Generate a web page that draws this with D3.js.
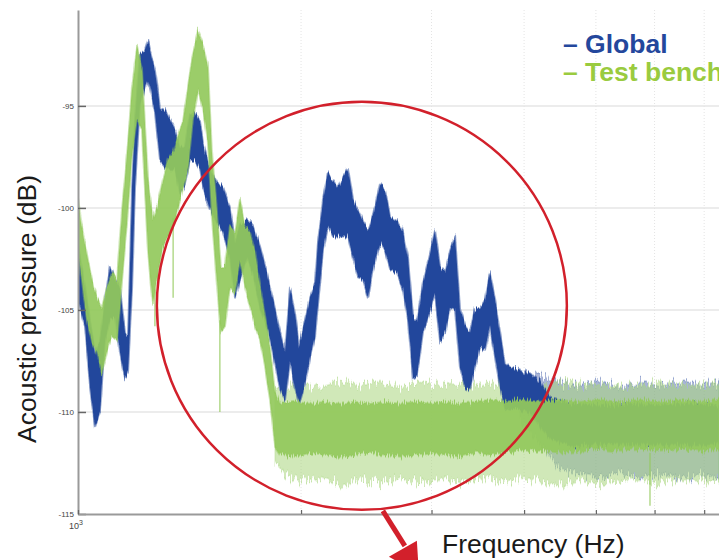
<!DOCTYPE html>
<html>
<head>
<meta charset="utf-8">
<script src="https://cdn.jsdelivr.net/npm/d3@7/dist/d3.min.js"></script>
<style>
	body { margin: 0; background: #fff; }
	svg { display: block; font-family: 'Liberation Sans', Arial, sans-serif; }
</style>
</head>
<body>
<div id="chart"></div>
<script>
// frequency points (Hz) and band edges (dB)
const globalFreq = [1000, 1022, 1038, 1054, 1071, 1087, 1104, 1122, 1139, 1157, 1168, 1183, 1194, 1212, 1231, 1243, 1251, 1270, 1290, 1310,
	1331, 1352, 1373, 1394, 1416, 1438, 1461, 1475, 1507, 1540, 1569, 1603, 1629, 1654, 1691, 1722, 1761, 1799, 1833, 1874,
	1903, 1933, 1963, 1988, 2025, 2057, 2089, 2109, 2141, 2174, 2209, 2243, 2278, 2314, 2350, 2387, 2425, 2463, 2502, 2557,
	2597, 2638, 2696, 2746, 2789, 2832, 2868, 2922, 2987, 3033, 3081, 3129, 3178, 3228, 3278, 3330, 3382, 3435, 3489, 3543,
	3598, 3655, 3712, 3770, 3828, 3912, 4011, 4074, 4202, 4336, 4614, 5064, 5559, 6102, 6698, 7330];
const globalHi = [-101.8, -103.9, -105.5, -107.1, -106.5, -104.7, -102.9, -103.5, -103.9, -106.1, -106.3, -99.0, -95.7, -92.4, -92.3, -91.8, -92.3, -93.2, -95.1, -95.2,
	-95.7, -96.2, -97.0, -97.0, -95.4, -95.3, -95.7, -96.8, -98.1, -98.8, -99.0, -100.0, -101.7, -100.9, -100.6, -100.9, -101.9, -103.2, -104.5, -106.1,
	-107.1, -103.9, -105.2, -106.8, -105.5, -104.4, -103.7, -101.6, -99.6, -98.3, -98.6, -99.0, -98.5, -98.1, -99.6, -100.1, -100.7, -101.1, -100.4, -98.8,
	-99.1, -100.4, -100.6, -101.2, -102.5, -105.3, -105.5, -103.7, -102.2, -101.1, -102.9, -103.2, -102.1, -101.4, -105.0, -105.8, -106.1, -104.9, -104.9, -104.5,
	-103.2, -104.5, -106.1, -107.6, -107.8, -107.9, -108.1, -108.1, -108.5, -109.3, -109.6, -109.7, -109.6, -109.7, -109.6, -109.7];
const globalLo = [-104.5, -105.8, -108.8, -110.7, -110.0, -106.5, -105.5, -105.3, -107.1, -108.4, -108.1, -103.9, -99.0, -94.9, -94.1, -93.7, -94.1, -95.3, -97.7, -98.0,
	-98.1, -98.1, -99.3, -98.8, -97.7, -97.7, -98.1, -99.0, -100.1, -100.7, -101.2, -102.4, -104.4, -103.5, -102.4, -103.2, -104.9, -105.8, -107.1, -108.9,
	-109.4, -107.5, -108.8, -109.6, -108.6, -107.3, -106.3, -104.7, -102.1, -100.9, -101.4, -101.4, -101.4, -101.4, -102.4, -103.4, -103.5, -104.4, -103.0, -101.7,
	-102.1, -103.0, -103.2, -104.0, -105.6, -108.3, -108.2, -106.1, -105.0, -104.2, -106.6, -106.1, -104.9, -105.0, -107.8, -108.8, -108.9, -107.8, -106.8, -107.0,
	-105.8, -107.3, -108.8, -109.8, -109.9, -109.8, -109.9, -110.0, -110.7, -111.3, -111.6, -111.6, -111.6, -111.6, -111.6, -111.6];

const benchFreq = [1000, 1012, 1028, 1044, 1061, 1077, 1094, 1111, 1129, 1147, 1165, 1183, 1201, 1220, 1243, 1262, 1282, 1302, 1323, 1344,
	1364, 1386, 1407, 1429, 1452, 1475, 1497, 1516, 1540, 1559, 1579, 1603, 1629, 1654, 1680, 1707, 1734, 1761, 1788, 1816,
	1845, 1874, 1963, 2057, 2154, 2257, 2365, 2479, 2597, 2721, 2851, 2987, 3129, 3278, 3435, 3598, 3770, 3949, 4202, 4472,
	4759, 5064, 5389, 5734, 6102, 6494, 6910, 7330];
const benchHi = [-99.5, -100.9, -102.2, -103.5, -104.4, -104.9, -103.9, -103.2, -103.5, -100.0, -97.3, -94.1, -92.1, -93.2, -98.6, -100.6, -99.8, -98.6, -97.6, -97.3,
	-96.5, -95.7, -94.1, -92.4, -91.3, -92.0, -93.0, -97.2, -100.1, -102.9, -102.9, -100.9, -101.2, -99.6, -100.9, -101.2, -102.2, -103.9, -105.3, -106.8,
	-109.1, -109.6, -109.5, -109.6, -109.5, -109.6, -109.5, -109.6, -109.5, -109.6, -109.5, -109.6, -109.5, -109.6, -109.5, -109.4, -109.5, -109.4, -109.5, -109.4,
	-109.5, -109.4, -109.5, -109.4, -109.5, -109.4, -109.5, -109.4];
const benchLo = [-102.2, -103.5, -105.5, -106.6, -107.1, -108.1, -107.1, -106.3, -106.5, -103.5, -100.6, -97.3, -95.7, -96.2, -102.2, -104.7, -103.2, -101.9, -101.4, -100.9,
	-100.0, -99.0, -98.1, -95.7, -94.2, -95.2, -96.7, -100.4, -103.7, -106.1, -105.8, -103.9, -104.2, -102.5, -103.9, -104.9, -105.8, -106.5, -107.8, -109.4,
	-111.7, -112.1, -112.2, -112.0, -112.1, -112.2, -112.1, -112.0, -112.1, -112.2, -112.1, -112.0, -112.1, -112.2, -112.0, -112.1, -112.0, -111.9, -111.9, -112.0,
	-111.9, -111.8, -111.9, -111.8, -111.9, -111.8, -111.9, -111.8];

// faint noise spread around the floor
const benchSpreadFreq = [1845, 1903, 1994, 2122, 2257, 2403, 2557, 2721, 2895, 3081, 3278, 3489, 3712, 3949, 4202, 4472, 4759, 5064, 5389, 5734, 6102, 6494, 6910, 7330];
const benchSpreadHi = [-108.8, -108.9, -108.6, -108.8, -108.5, -108.7, -108.6, -108.8, -108.5, -108.7, -108.6, -108.8, -108.5, -108.6, -108.7, -108.5, -108.7, -108.6, -108.8, -108.6, -108.7, -108.6, -108.7, -108.6];
const benchSpreadLo = [-112.4, -113.0, -113.4, -113.2, -113.6, -113.3, -113.5, -113.2, -113.4, -113.3, -113.5, -113.2, -113.4, -113.3, -113.4, -113.6, -113.3, -113.5, -113.4, -113.3, -113.5, -113.3, -113.4, -113.3];
const globalSpreadFreq = [3949, 4202, 4472, 4759, 5064, 5389, 5734, 6102, 6494, 6910, 7330];
const globalSpreadHi = [-108.0, -108.2, -108.6, -108.7, -108.5, -108.8, -108.6, -108.7, -108.5, -108.7, -108.6];
const globalSpreadLo = [-110.4, -111.6, -112.8, -113.0, -113.2, -112.9, -113.3, -113.0, -113.2, -113.1, -113.2];

// isolated downward spikes of the test bench trace
const benchDropFreq = [1270, 1344, 1554, 5915];
const benchDropTop = [-104.0, -100.5, -105.5, -112.0];
const benchDropBottom = [-105.8, -104.4, -110.0, -114.6];

const yTicks = [-115, -110, -105, -100, -95];
const xTicks = [1000, 2000, 3000, 4000, 5000, 6000, 7000];
const seriesNames = ['Global', 'Test bench'];

// annotation circle (centre in data units, radius in px)
const ringFreq = 2416;
const ringDb = -104.8;

(function () {
	'use strict';
	const width = 719;
	const height = 560;
	const plot = { left: 78, right: 719, top: 10, bottom: 514 };
	const blue = '#24479c';
	const green = '#93c95b';
	const paleGreen = '#a9d67e';
	const red = '#d2202b';

	const svg = d3.select('#chart').append('svg')
		.attr('width', width)
		.attr('height', height);

	const x = d3.scaleLog().domain([1000, 7330]).range([plot.left, plot.right]);
	const y = d3.scaleLinear().domain([-115, -90.3]).range([plot.bottom, plot.top]);

	const defs = svg.append('defs');
	defs.append('clipPath').attr('id', 'plotClip')
		.append('rect')
		.attr('x', plot.left).attr('y', plot.top)
		.attr('width', plot.right - plot.left).attr('height', plot.bottom - plot.top);

	// vertical-only jitter of band edges, to get the hairy look of a dense spectrum
	function roughFilter(id, scale, seed) {
		const f = defs.append('filter').attr('id', id)
			.attr('filterUnits', 'userSpaceOnUse')
			.attr('x', 0).attr('y', 0).attr('width', width).attr('height', height);
		f.append('feTurbulence').attr('type', 'fractalNoise')
			.attr('baseFrequency', '0.7 0.03').attr('numOctaves', 2).attr('seed', seed).attr('result', 'n');
		f.append('feColorMatrix').attr('in', 'n').attr('type', 'matrix')
			.attr('values', '1 0 0 0 0  0 0 0 0 0.5  0 0 0 0 0  0 0 0 0 1').attr('result', 'm');
		f.append('feDisplacementMap').attr('in', 'SourceGraphic').attr('in2', 'm')
			.attr('scale', scale).attr('xChannelSelector', 'G').attr('yChannelSelector', 'R');
	}
	roughFilter('roughBlue', 12, 4);
	roughFilter('roughGreen', 12, 21);
	roughFilter('spreadBlue', 22, 9);
	roughFilter('spreadGreen', 22, 33);

	// grid
	svg.append('g')
		.selectAll('line').data(yTicks.slice(1)).enter().append('line')
		.attr('x1', plot.left).attr('x2', plot.right)
		.attr('y1', d => y(d)).attr('y2', d => y(d))
		.style('stroke', '#e6e6e6').style('stroke-width', 1.5);
	svg.append('g')
		.selectAll('line').data(xTicks.slice(1)).enter().append('line')
		.attr('x1', d => x(d)).attr('x2', d => x(d))
		.attr('y1', plot.top).attr('y2', plot.bottom)
		.style('stroke', '#e4e4e4').style('stroke-width', 1)
		.style('stroke-dasharray', '1,2');

	function band(fr, hi, lo) {
		return fr.map((f, i) => ({ f: f, hi: hi[i], lo: lo[i] }));
	}
	const area = d3.area()
		.x(d => x(d.f))
		.y0(d => y(d.lo))
		.y1(d => y(d.hi));

	const traces = svg.append('g').attr('clip-path', 'url(#plotClip)');

	function drawBand(data, color, fillOp, filterId) {
		traces.append('g').attr('filter', 'url(#' + filterId + ')')
			.append('path')
			.datum(data)
			.attr('d', area)
			.style('fill', color).style('fill-opacity', fillOp)
			.style('stroke', color).style('stroke-opacity', fillOp * 0.5)
			.style('stroke-width', 2).style('stroke-linejoin', 'round');
	}

	drawBand(band(globalSpreadFreq, globalSpreadHi, globalSpreadLo), blue, 0.4, 'spreadBlue');
	drawBand(band(benchSpreadFreq, benchSpreadHi, benchSpreadLo), paleGreen, 0.55, 'spreadGreen');
	drawBand(band(globalFreq, globalHi, globalLo), blue, 1, 'roughBlue');
	drawBand(band(benchFreq, benchHi, benchLo), green, 0.92, 'roughGreen');

	traces.append('g')
		.selectAll('line').data(benchDropFreq).enter().append('line')
		.attr('x1', d => x(d)).attr('x2', d => x(d))
		.attr('y1', (d, i) => y(benchDropTop[i]))
		.attr('y2', (d, i) => y(benchDropBottom[i]))
		.style('stroke', green).style('stroke-opacity', 0.7).style('stroke-width', 1.5);

	// axes
	const yAxis = svg.append('g')
		.attr('transform', 'translate(' + plot.left + ',0)')
		.call(d3.axisLeft(y).tickValues(yTicks).tickSizeInner(-8).tickSizeOuter(0).tickPadding(4)
			.tickFormat(d3.format('d')));
	yAxis.select('.domain').style('stroke', '#9a9a9a').style('stroke-width', 2);
	yAxis.selectAll('.tick line').style('stroke', '#666').style('stroke-width', 1.5);
	yAxis.selectAll('.tick text').style('font-size', '8px').style('fill', '#444')
		.text(d => '-' + Math.abs(d));

	const xAxis = svg.append('g')
		.attr('transform', 'translate(0,' + plot.bottom + ')')
		.call(d3.axisBottom(x).tickValues(xTicks).tickSizeInner(-4).tickSizeOuter(0).tickFormat(''));
	xAxis.select('.domain').style('stroke', '#9a9a9a').style('stroke-width', 2);
	xAxis.selectAll('.tick line').style('stroke', '#666').style('stroke-width', 1.2);

	const base = svg.append('text')
		.attr('x', x(1000) - 9).attr('y', plot.bottom + 15)
		.style('font-size', '9px').style('fill', '#444');
	base.append('tspan').text('10');
	base.append('tspan').attr('dy', -4).style('font-size', '7px').text('3');

	// axis titles
	svg.append('text')
		.attr('transform', 'translate(36,309) rotate(-90)')
		.style('text-anchor', 'middle').style('font-size', '26.5px').style('fill', '#1a1a1a')
		.text('Acoustic pressure (dB)');
	svg.append('text')
		.attr('x', 442).attr('y', 553)
		.style('font-size', '26.5px').style('fill', '#1a1a1a')
		.text('Frequency (Hz)');

	// legend (the reference crops the second entry at the right edge)
	const legendColors = [blue, '#9acb3f'];
	svg.append('g')
		.selectAll('text').data(seriesNames).enter().append('text')
		.attr('x', 563).attr('y', (d, i) => 53 + i * 28)
		.style('font-size', '26.5px').style('font-weight', 'bold')
		.style('fill', (d, i) => legendColors[i])
		.text(d => '\u2013 ' + d);

	// annotation ring and arrow
	svg.append('ellipse')
		.attr('cx', x(ringFreq)).attr('cy', y(ringDb))
		.attr('rx', 205).attr('ry', 204)
		.style('fill', 'none').style('stroke', red).style('stroke-width', 2.5);

	const ax0 = x(ringFreq) + 21, ay0 = y(ringDb) + 205;
	svg.append('line')
		.attr('x1', ax0).attr('y1', ay0)
		.attr('x2', ax0 + 22).attr('y2', ay0 + 35)
		.style('stroke', red).style('stroke-width', 5);
	svg.append('path')
		.attr('d', 'M' + (ax0 + 6) + ',' + (ay0 + 46) + 'L' + (ax0 + 34) + ',' + (ay0 + 30) + 'L' + (ax0 + 36) + ',' + (ay0 + 62) + 'Z')
		.style('fill', red);
})();
</script>
</body>
</html>
